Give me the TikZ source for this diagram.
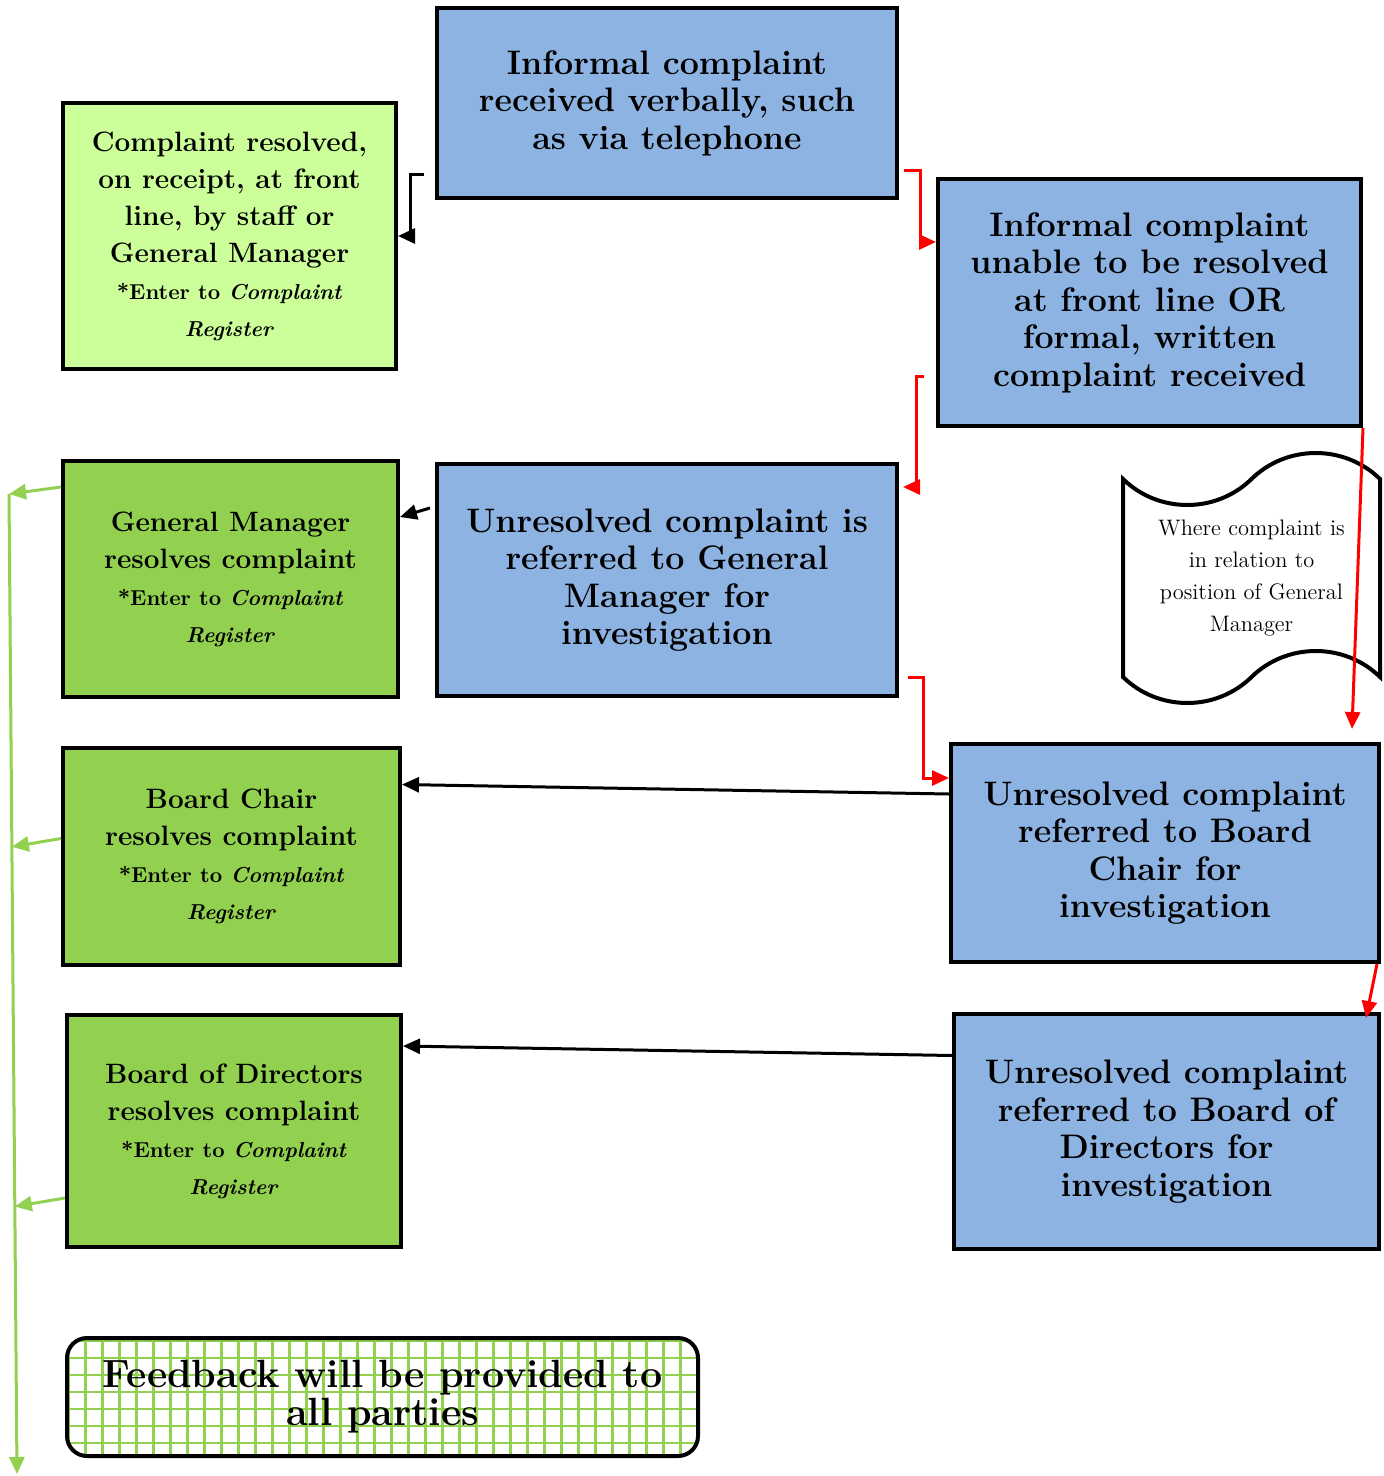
\documentclass[tikz,border=0pt]{standalone}
\usetikzlibrary{arrows.meta,shapes.symbols,calc}

\definecolor{boxblue}{HTML}{8DB3E2}
\definecolor{palegreen}{HTML}{CCFF99}
\definecolor{leafgreen}{HTML}{92D050}

\newcommand{\regfont}{\fontsize{10.8}{18.5}\selectfont}

\tikzset{
  stage/.style={draw=black, line width=2pt, align=center, inner sep=0pt,
    font=\bfseries\fontsize{14}{18.5}\selectfont},
  blue stage/.style={stage, fill=boxblue, font=\bfseries\fontsize{17}{18.75}\selectfont},
  pale stage/.style={stage, fill=palegreen},
  leaf stage/.style={stage, fill=leafgreen},
  blackflow/.style={-{Triangle[length=8.5pt,width=7.5pt]}, line width=1.5pt},
  redflow/.style={blackflow, red},
  feedflow/.style={blackflow, leafgreen},
}

\begin{document}
\begin{tikzpicture}[x=0.5pt,y=-0.5pt]
  \useasboundingbox (0,0) rectangle (1384,1476);

  % blue column
  \node[blue stage, minimum width=230pt, minimum height=95pt] (informal) at (667,103)
    {Informal complaint\\received verbally, such\\as via telephone};
  \node[blue stage, minimum width=211.5pt, minimum height=123.5pt] (unable) at (1149.5,302.5)
    {Informal complaint\\unable to be resolved\\at front line OR\\formal, written\\complaint received};
  \node[blue stage, minimum width=230pt, minimum height=116pt] (gmreferral) at (667,580)
    {Unresolved complaint is\\referred to General\\Manager for\\investigation};
  \node[blue stage, minimum width=214pt, minimum height=109pt] (chairreferral) at (1165,853)
    {Unresolved complaint\\referred to Board\\Chair for\\investigation};
  \node[blue stage, minimum width=212.5pt, minimum height=117.5pt] (boardreferral) at (1166.5,1131.5)
    {Unresolved complaint\\referred to Board of\\Directors for\\investigation};

  % green column
  \node[pale stage, minimum width=166.5pt, minimum height=133pt] (frontline) at (229.5,236)
    {Complaint resolved,\\on receipt, at front\\line, by staff or\\General Manager\\\regfont *Enter to \textit{Complaint}\\\regfont\textit{Register}};
  \node[leaf stage, minimum width=167.5pt, minimum height=118pt] (gmresolve) at (230.5,579)
    {General Manager\\resolves complaint\\\regfont *Enter to \textit{Complaint}\\\regfont\textit{Register}};
  \node[leaf stage, minimum width=168.5pt, minimum height=108.5pt] (chairresolve) at (231.5,856.5)
    {Board Chair\\resolves complaint\\\regfont *Enter to \textit{Complaint}\\\regfont\textit{Register}};
  \node[leaf stage, minimum width=167pt, minimum height=116pt] (boardresolve) at (234,1131)
    {Board of Directors\\resolves complaint\\\regfont *Enter to \textit{Complaint}\\\regfont\textit{Register}};

  % note and feedback
  \node[tape, draw, line width=2pt, tape bend height=26pt, minimum width=128.5pt,
    minimum height=125pt, align=center, inner sep=0pt,
    font=\fontsize{11.2}{16}\selectfont] (gmnote) at (1251.5,578)
    {Where complaint is\\in relation to\\position of General\\Manager};
  \node[draw, line width=2pt, rounded corners=10pt, minimum width=315.5pt,
    minimum height=59pt, align=center, inner sep=0pt,
    font=\bfseries\fontsize{19.7}{19}\selectfont,
    path picture={\draw[leafgreen, line width=1.2pt, step=8.5pt]
      (path picture bounding box.south west) grid (path picture bounding box.north east);}]
    (feedback) at (382.5,1397) {Feedback will be provided to\\all parties};

  % connectors
  \coordinate (k1) at (424,175);
  \coordinate (k2) at (410,236);
  \draw[blackflow] (k1) -| (k2) -- (frontline.east);

  \coordinate (r1) at (904,171);
  \coordinate (r1b) at (920,242);
  \draw[redflow] (r1) -| (r1b) -- (unable.west |- r1b);
  \coordinate (r2) at (924,376);
  \coordinate (r2b) at (916,487);
  \draw[redflow] (r2) -| (r2b) -- ([xshift=2pt]gmreferral.east |- r2b);
  \coordinate (r3) at (908,677);
  \coordinate (r3b) at (923,778);
  \draw[redflow] (r3) -| (r3b) -- (chairreferral.west |- r3b);
  \coordinate (r4) at (1352,729);
  \draw[redflow] (unable.south east) -- (r4);
  \coordinate (r5) at (1366,1018);
  \draw[redflow] ([xshift=-2pt]chairreferral.south east) -- (r5);

  \draw[blackflow] ([xshift=-2.5pt,yshift=36pt]gmreferral.west) -- ([yshift=31pt]gmresolve.east);
  \draw[blackflow] ([yshift=29.5pt]chairreferral.west) -- ([yshift=36pt]chairresolve.east);
  \draw[blackflow] ([yshift=38pt]boardreferral.west) -- ([yshift=42.5pt]boardresolve.east);

  % feedback line
  \coordinate (g0) at (9,494);
  \coordinate (g1) at (17,1474);
  \draw[feedflow] (g0) -- (g1);
  \draw[feedflow] ([yshift=46pt]gmresolve.west) -- (g0);
  \draw[feedflow] ([yshift=9pt]chairresolve.west) -- ($(g0)!0.36!(g1)$);
  \draw[feedflow] ([yshift=-33.5pt]boardresolve.west) -- ($(g0)!0.727!(g1)$);
\end{tikzpicture}
\end{document}
